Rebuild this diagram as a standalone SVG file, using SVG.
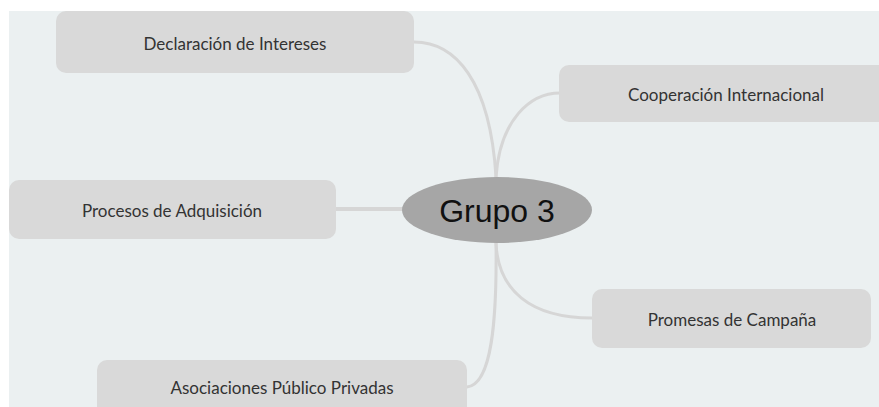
<svg xmlns="http://www.w3.org/2000/svg" width="879" height="407" viewBox="0 0 879 407">
<style>
.bg{fill:#ebf0f1}
.node rect{fill:#d9d9d9}
.node text{font-family:Lato,"Liberation Sans",sans-serif;font-size:17px;fill:#333;text-anchor:middle;dominant-baseline:central}
.conn path{fill:none;stroke:#d6d6d6;stroke-width:3;stroke-linecap:round}
</style>
<rect x="0" y="0" width="879" height="407" fill="#ffffff"/>
<rect class="bg" x="9" y="11" width="870" height="396"/>
<g class="conn">
<path d="M414,42 C455,42 490,80 496,177"/>
<path d="M560,93 C530,93 500,120 496,177"/>
<path d="M336,209 L404,209" style="stroke-width:4"/>
<path d="M496,243 C498,290 530,318 592,318"/>
<path d="M496,243 C497,320 492,385 467,387"/>
</g>
<g id="n-declaracion" class="node"><rect x="56" y="11" width="358" height="62" rx="10"/><text x="235" y="43">Declaración de Intereses</text></g>
<g id="n-cooperacion" class="node"><rect x="559" y="65" width="340" height="57" rx="10"/><text x="726" y="94">Cooperación Internacional</text></g>
<g id="n-procesos" class="node"><rect x="9" y="180" width="327" height="59" rx="10"/><text x="172" y="210">Procesos de Adquisición</text></g>
<g id="n-promesas" class="node"><rect x="592" y="289" width="279" height="59" rx="10"/><text x="732" y="319">Promesas de Campaña</text></g>
<g id="n-asociaciones" class="node"><rect x="97" y="360" width="370" height="62" rx="10"/><text x="282" y="387">Asociaciones Público Privadas</text></g>
<g id="n-grupo3"><ellipse cx="497" cy="210" rx="95" ry="33" fill="#a6a6a6"/><text x="497" y="222" font-family="'Liberation Sans',Arial,sans-serif" font-size="32" fill="#111" text-anchor="middle">Grupo 3</text></g>
</svg>
